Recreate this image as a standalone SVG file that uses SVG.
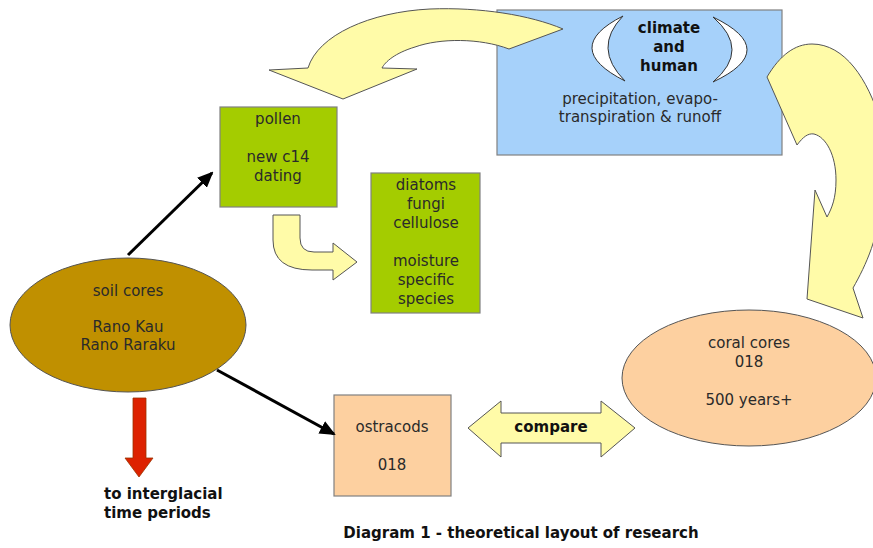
<svg xmlns="http://www.w3.org/2000/svg" width="873" height="548" viewBox="0 0 873 548">
<style>
text{font-family:"DejaVu Sans","Liberation Sans",sans-serif;font-size:15px;fill:#2a2a2a;text-anchor:middle}
.b{font-weight:bold;fill:#111}
.box{stroke:#808080;stroke-width:1.2}
.yel{fill:#fffba8;stroke:#555;stroke-width:1}
.blk{stroke:#000;stroke-width:3;fill:none}
</style>
<defs>
<marker id="ah" markerWidth="16" markerHeight="14" refX="14" refY="7" orient="auto" markerUnits="userSpaceOnUse" viewBox="0 0 16 14"><path d="M0,0 L16,7 L0,14 Z" fill="#000"/></marker>
</defs>
<rect width="873" height="548" fill="#fff"/>
<g id="climate">
<rect class="box" x="497" y="10" width="285" height="145" fill="#a6d1fa"/>
<path d="M623,16 Q560,48 625,81 Q592,48 623,16 Z" fill="#fff" stroke="#333" stroke-width="1"/>
<path d="M713,17 Q781,50 713,82 Q751,50 713,17 Z" fill="#fff" stroke="#333" stroke-width="1"/>
<text class="b" x="669" y="33">climate</text>
<text class="b" x="669" y="52">and</text>
<text class="b" x="669" y="71">human</text>
<text x="640" y="104">precipitation, evapo-</text>
<text x="640" y="122">transpiration &amp; runoff</text>
</g>
<g id="pollen">
<rect class="box" x="220" y="107" width="117" height="100" fill="#a4cc00"/>
<text x="278" y="124">pollen</text>
<text x="278" y="162">new c14</text>
<text x="278" y="181">dating</text>
</g>
<g id="diatoms">
<rect class="box" x="371" y="173" width="109" height="140" fill="#a4cc00"/>
<text x="426" y="190">diatoms</text>
<text x="426" y="209">fungi</text>
<text x="426" y="228">cellulose</text>
<text x="426" y="266">moisture</text>
<text x="426" y="285">specific</text>
<text x="426" y="304">species</text>
</g>
<g id="soil">
<ellipse cx="128" cy="325" rx="118" ry="67" fill="#c09000" stroke="#555" stroke-width="1"/>
<text x="128" y="296">soil cores</text>
<text x="128" y="332">Rano Kau</text>
<text x="128" y="350">Rano Raraku</text>
</g>
<g id="coral">
<ellipse cx="749" cy="378" rx="127" ry="68" fill="#fdd0a0" stroke="#555" stroke-width="1"/>
<text x="749" y="348">coral cores</text>
<text x="749" y="367">018</text>
<text x="749" y="405">500 years+</text>
</g>
<g id="ostracods">
<rect class="box" x="334" y="395" width="117" height="101" fill="#fdd0a0"/>
<text x="392" y="432">ostracods</text>
<text x="392" y="470">018</text>
</g>
<g id="connectors">
<path class="yel" d="M308,68 C318,35 370,12 430,9 C480,7 530,15 563,29 L509,49 C480,38 440,38 415,47 C395,53 385,62 382,68 L417,69 L343,99 L269,70 Z"/>
<path class="yel" d="M767,77 L797,145 C803,137 808,133 814,134 C826,137 836,155 836,180 C836,198 832,208 827,217 L815,190 L807,299 L863,318 L853,288 C866,265 880,235 880,200 L880,120 C868,80 845,44 812,44 C795,44 780,55 767,77 Z"/>
<path class="yel" d="M273,215 L300,215 L300,238 Q300,252 314,252 L333,252 L333,243 L357,262 L333,280 L333,270 L312,270 Q273,270 273,240 Z"/>
<path class="yel" d="M468,428 L501,401 L501,413 L601,413 L601,401 L635,428 L601,457 L601,443 L501,443 L501,457 Z"/>
<line class="blk" x1="128" y1="255" x2="212" y2="173" marker-end="url(#ah)"/>
<line class="blk" x1="217" y1="370" x2="334" y2="434" marker-end="url(#ah)"/>
<path d="M133,398 L146,398 L146,458 L153,458 L139,477 L125,458 L133,458 Z" fill="#dd2200" stroke="#993300" stroke-width="0.8"/>
</g>
<g id="compare">
<text class="b" x="551" y="432">compare</text>
</g>
<g id="labels">
<text class="b" x="104" y="499" style="text-anchor:start">to interglacial</text>
<text class="b" x="104" y="518" style="text-anchor:start">time periods</text>
<text class="b" x="521" y="538">Diagram 1 - theoretical layout of research</text>
</g>
</svg>
